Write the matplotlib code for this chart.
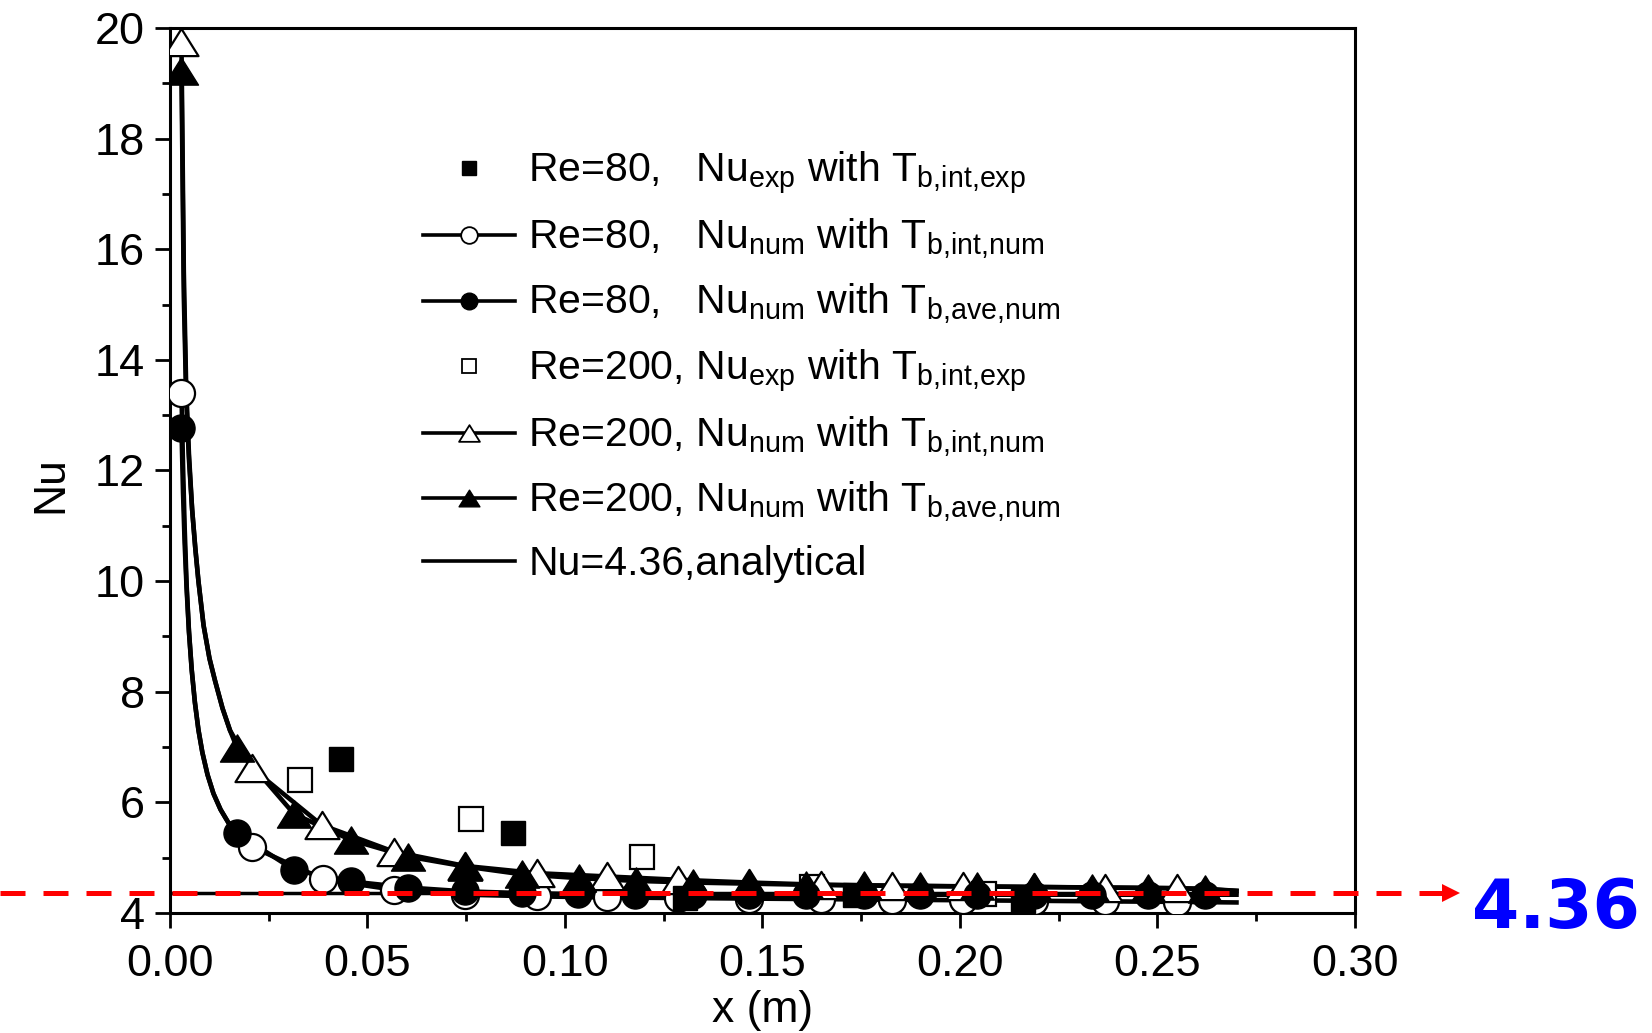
import matplotlib
matplotlib.use('Agg')
import matplotlib.pyplot as plt
from matplotlib.lines import Line2D
from matplotlib.path import Path
from matplotlib.ticker import MultipleLocator, FormatStrFormatter

# ---- data ----
# Re=80, Nu_exp (filled squares)
x_exp80 = [0.0434, 0.0869, 0.1305, 0.1733, 0.2160]
nu_exp80 = [6.79, 5.44, 4.27, 4.33, 4.22]

# Re=200, Nu_exp (open squares)
x_exp200 = [0.0330, 0.0762, 0.1194, 0.1625, 0.2060]
nu_exp200 = [6.41, 5.70, 5.02, 4.47, 4.35]

# Re=80, Nu_num with T_b,int,num (open circles)
x_int80 = [0.0029, 0.0207, 0.0387, 0.0567, 0.0747, 0.0928, 0.1106, 0.1287,
           0.1467, 0.1648, 0.1829, 0.2007, 0.2188, 0.2368, 0.2549]
nu_int80 = [13.40, 5.20, 4.61, 4.42, 4.33, 4.30, 4.28, 4.27,
            4.26, 4.25, 4.24, 4.23, 4.22, 4.21, 4.20]

# Re=80, Nu_num with T_b,ave,num (filled circles)
x_ave80 = [0.0029, 0.0170, 0.0314, 0.0458, 0.0602, 0.0747, 0.0890, 0.1034,
           0.1178, 0.1323, 0.1467, 0.1610, 0.1757, 0.1900, 0.2042, 0.2188,
           0.2333, 0.2477, 0.2620]
nu_ave80 = [12.77, 5.44, 4.78, 4.57, 4.46, 4.39, 4.36, 4.34,
            4.33, 4.33, 4.33, 4.33, 4.33, 4.33, 4.33, 4.33,
            4.33, 4.33, 4.33]

# Re=200, Nu_num with T_b,int,num (open triangles)
x_int200 = [0.0029, 0.0207, 0.0384, 0.0566, 0.0747, 0.0928, 0.1107, 0.1287,
            0.1467, 0.1648, 0.1829, 0.2007, 0.2188, 0.2368, 0.2549]
nu_int200 = [19.74, 6.62, 5.59, 5.11, 4.85, 4.72, 4.66, 4.60,
             4.55, 4.51, 4.49, 4.48, 4.47, 4.46, 4.45]

# Re=200, Nu_num with T_b,ave,num (filled triangles)
x_ave200 = [0.0029, 0.0170, 0.0314, 0.0458, 0.0602, 0.0747, 0.0890, 0.1035,
            0.1179, 0.1323, 0.1467, 0.1610, 0.1757, 0.1900, 0.2042, 0.2188,
            0.2333, 0.2477, 0.2620]
nu_ave200 = [19.23, 6.98, 5.79, 5.32, 5.02, 4.84, 4.70, 4.63,
             4.58, 4.55, 4.53, 4.51, 4.50, 4.49, 4.48, 4.47,
             4.46, 4.45, 4.44]

# extra points of the solid lines (steep entrance part, no markers there)
xl_80 = [0.0033, 0.0037, 0.0042, 0.0048, 0.0055, 0.0063, 0.0072, 0.0082,
         0.0095, 0.0110, 0.0128, 0.0148]
nul_int80 = [12.1, 11.0, 9.95, 9.1, 8.4, 7.81, 7.31, 6.90, 6.50, 6.16, 5.87, 5.63]
nul_ave80 = [11.6, 10.7, 9.87, 9.08, 8.39, 7.81, 7.31, 6.90, 6.50, 6.16, 5.87, 5.63]
xl_200 = [0.0035, 0.0041, 0.0048, 0.0056, 0.0064, 0.0072, 0.0085, 0.0100,
          0.0114, 0.0133, 0.0152]
nul_int200 = [15.6, 13.5, 12.3, 11.3, 10.6, 10.0, 9.2, 8.6, 8.2, 7.7, 7.3]
nul_ave200 = [15.15, 13.3, 12.2, 11.3, 10.6, 10.0, 9.2, 8.6, 8.2, 7.7, 7.3]
# where the lines stop
x_end = 0.27
nu_end = {'int80': 4.19, 'ave80': 4.33, 'int200': 4.40, 'ave200': 4.40}

# analytical value
nu_ana = 4.36
x_ana = [0.0, 0.27]

labels = [r'Re=80,   Nu$_\mathrm{exp}$ with T$_\mathrm{b{,}int{,}exp}$',
          r'Re=80,   Nu$_\mathrm{num}$ with T$_\mathrm{b{,}int{,}num}$',
          r'Re=80,   Nu$_\mathrm{num}$ with T$_\mathrm{b{,}ave{,}num}$',
          r'Re=200, Nu$_\mathrm{exp}$ with T$_\mathrm{b{,}int{,}exp}$',
          r'Re=200, Nu$_\mathrm{num}$ with T$_\mathrm{b{,}int{,}num}$',
          r'Re=200, Nu$_\mathrm{num}$ with T$_\mathrm{b{,}ave{,}num}$',
          'Nu=4.36,analytical']

xticks = [0.00, 0.05, 0.10, 0.15, 0.20, 0.25, 0.30]
yticks = [4, 6, 8, 10, 12, 14, 16, 18, 20]

# ---- style ----
plt.rcParams['font.family'] = ['Liberation Sans', 'DejaVu Sans']
plt.rcParams['mathtext.fontset'] = 'custom'
plt.rcParams['mathtext.rm'] = 'Liberation Sans'
plt.rcParams['mathtext.it'] = 'Liberation Sans:italic'
plt.rcParams['mathtext.bf'] = 'Liberation Sans:bold'

# wide triangle like Origin's, closed so the open one gets all 3 edges
tri = Path([(0, 0.8), (-1, -0.8), (1, -0.8), (0, 0.8)],
           [Path.MOVETO, Path.LINETO, Path.LINETO, Path.CLOSEPOLY])
LW = 3.3


def line_of(xm, ym, xh, yh, yend):
    pts = sorted(zip(list(xm) + list(xh) + [x_end], list(ym) + list(yh) + [yend]))
    return [p[0] for p in pts], [p[1] for p in pts]


fig = plt.figure(figsize=(16.52, 10.33), dpi=100)
ax = fig.add_axes([0.1029, 0.1162, 0.7173, 0.8567])

# lines
for xm, ym, xh, yh, key in [(x_int80, nu_int80, xl_80, nul_int80, 'int80'),
                            (x_ave80, nu_ave80, xl_80, nul_ave80, 'ave80'),
                            (x_int200, nu_int200, xl_200, nul_int200, 'int200'),
                            (x_ave200, nu_ave200, xl_200, nul_ave200, 'ave200')]:
    lx, ly = line_of(xm, ym, xh, yh, nu_end[key])
    ax.plot(lx, ly, '-', color='k', lw=LW, zorder=2, solid_joinstyle='round')
ax.plot(x_ana, [nu_ana, nu_ana], '-', color='k', lw=2.5, zorder=2)

# markers (open first, filled on top)
mk = dict(ls='none', mec='k', zorder=3)
ax.plot(x_exp200, nu_exp200, marker='s', ms=17, mfc='w', mew=1.6, **mk)
ax.plot(x_int80, nu_int80, marker='o', ms=19.5, mfc='w', mew=1.6, **mk)
ax.plot(x_int200, nu_int200, marker=tri, ms=24.5, mfc='w', mew=1.6, **mk)
ax.plot(x_exp80, nu_exp80, marker='s', ms=17, mfc='k', mew=1.0, **mk)
ax.plot(x_ave80, nu_ave80, marker='o', ms=19.5, mfc='k', mew=1.0, **mk)
ax.plot(x_ave200, nu_ave200, marker=tri, ms=24.5, mfc='k', mew=1.0, **mk)

# red dashed arrow at Nu = 4.36 going out of the frame
ax.plot([-0.043, 0.3223], [nu_ana, nu_ana], color='red', lw=3.6,
        ls=(0, (5, 3.6)), clip_on=False, zorder=10, dash_capstyle='butt')
ax.plot([0.3244], [nu_ana], marker='>', ms=12.5, color='red', mew=0,
        clip_on=False, zorder=10)
ax.text(0.3297, 3.73, '4.36', color='#0000ff', fontsize=49, fontweight='bold',
        family='DejaVu Sans', ha='left', va='baseline', clip_on=False)

# axes
ax.set_xlim(0, 0.30)
ax.set_ylim(4, 20)
ax.set_xticks(xticks)
ax.set_yticks(yticks)
ax.xaxis.set_major_formatter(FormatStrFormatter('%.2f'))
ax.xaxis.set_minor_locator(MultipleLocator(0.025))
ax.yaxis.set_minor_locator(MultipleLocator(1))
ax.tick_params(which='both', direction='out', top=False, right=False, width=2,
               labelsize=32.5)
ax.tick_params(which='major', length=11, pad=7)
ax.tick_params(axis='x', which='major', pad=11)
ax.tick_params(which='minor', length=5.5)
for s in ax.spines.values():
    s.set_linewidth(2.2)

fig.text(0.0310, 0.5305, 'Nu', rotation=90, fontsize=32, ha='center', va='center')
fig.text(0.4616, 0.0105, 'x (m)', fontsize=32, ha='center', va='baseline')

# legend
hk = dict(color='k', mec='k', lw=2.6)
handles = [
    Line2D([], [], ls='none', marker='s', ms=10.5, mfc='k', mec='k'),
    Line2D([], [], ls='-', marker='o', ms=12, mfc='w', mew=1.3, **hk),
    Line2D([], [], ls='-', marker='o', ms=12, mfc='k', **hk),
    Line2D([], [], ls='none', marker='s', ms=10.5, mfc='w', mec='k', mew=1.3),
    Line2D([], [], ls='-', marker=tri, ms=15, mfc='w', mew=1.3, **hk),
    Line2D([], [], ls='-', marker=tri, ms=15, mfc='k', **hk),
    Line2D([], [], ls='-', **hk),
]
ax.legend(handles, labels, loc='upper left', bbox_to_anchor=(0.2135, 0.862),
          frameon=False, fontsize=29.5, handlelength=2.25, handletextpad=0.32,
          labelspacing=0.49, borderpad=0, borderaxespad=0)

fig.savefig('out.png', dpi=100)
